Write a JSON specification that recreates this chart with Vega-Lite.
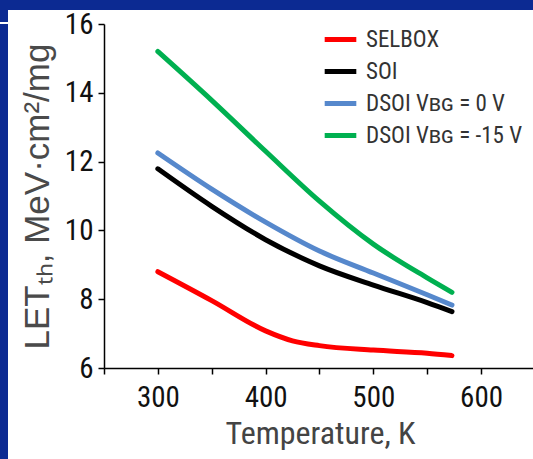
{
  "$schema": "https://vega.github.io/schema/vega-lite/v6.json",
  "padding": 0,
  "background": "white",
  "autosize": {"type": "pad"},
  "config": {"view": {"stroke": null}},
  "columns": 1,
  "align": "none",
  "bounds": "full",
  "spacing": -12,
  "concat": [
    {
      "columns": 2,
      "align": "none",
      "bounds": "full",
      "spacing": 0,
      "concat": [
        {
          "width": 8,
          "height": 22,
          "data": {"values": [{}]},
          "mark": {"type": "rect", "color": "#0c2a92"}
        },
        {
          "width": 525,
          "height": 10,
          "data": {"values": [{}]},
          "mark": {"type": "rect", "color": "#0c2a92"}
        }
      ]
    },
    {
      "columns": 2,
      "align": "none",
      "bounds": "full",
      "spacing": 12,
      "concat": [
        {
          "width": 8,
          "height": 437,
          "data": {"values": [{}]},
          "mark": {"type": "rect", "color": "#0c2a92"}
        },
        {
          "width": 432,
          "height": 344,
          "data": {
            "values": [
              {"T": 300, "LET": 8.8, "device": "SELBOX"},
              {"T": 350, "LET": 7.96, "device": "SELBOX"},
              {"T": 400, "LET": 7.08, "device": "SELBOX"},
              {"T": 425, "LET": 6.79, "device": "SELBOX"},
              {"T": 450, "LET": 6.65, "device": "SELBOX"},
              {"T": 500, "LET": 6.52, "device": "SELBOX"},
              {"T": 550, "LET": 6.43, "device": "SELBOX"},
              {"T": 573, "LET": 6.36, "device": "SELBOX"},
              {"T": 300, "LET": 11.79, "device": "SOI"},
              {"T": 350, "LET": 10.7, "device": "SOI"},
              {"T": 400, "LET": 9.73, "device": "SOI"},
              {"T": 450, "LET": 8.97, "device": "SOI"},
              {"T": 500, "LET": 8.41, "device": "SOI"},
              {"T": 550, "LET": 7.9, "device": "SOI"},
              {"T": 573, "LET": 7.64, "device": "SOI"},
              {"T": 300, "LET": 12.25, "device": "DSOI Vʙɢ = 0 V"},
              {"T": 350, "LET": 11.2, "device": "DSOI Vʙɢ = 0 V"},
              {"T": 400, "LET": 10.24, "device": "DSOI Vʙɢ = 0 V"},
              {"T": 450, "LET": 9.4, "device": "DSOI Vʙɢ = 0 V"},
              {"T": 500, "LET": 8.76, "device": "DSOI Vʙɢ = 0 V"},
              {"T": 550, "LET": 8.13, "device": "DSOI Vʙɢ = 0 V"},
              {"T": 573, "LET": 7.83, "device": "DSOI Vʙɢ = 0 V"},
              {"T": 300, "LET": 15.2, "device": "DSOI Vʙɢ = -15 V"},
              {"T": 350, "LET": 13.78, "device": "DSOI Vʙɢ = -15 V"},
              {"T": 400, "LET": 12.3, "device": "DSOI Vʙɢ = -15 V"},
              {"T": 450, "LET": 10.85, "device": "DSOI Vʙɢ = -15 V"},
              {"T": 500, "LET": 9.6, "device": "DSOI Vʙɢ = -15 V"},
              {"T": 550, "LET": 8.62, "device": "DSOI Vʙɢ = -15 V"},
              {"T": 573, "LET": 8.2, "device": "DSOI Vʙɢ = -15 V"}
            ]
          },
          "mark": {
            "type": "line",
            "strokeWidth": 5,
            "strokeCap": "round",
            "interpolate": "monotone"
          },
          "encoding": {
            "x": {
              "field": "T",
              "type": "quantitative",
              "scale": {"domain": [250, 651], "nice": false, "zero": false},
              "axis": {
                "title": "Temperature, K",
                "values": [250, 300, 350, 400, 450, 500, 550, 600, 650],
                "labelExpr": "datum.value % 100 === 0 && datum.value < 650 ? datum.label : ''",
                "grid": false,
                "domainColor": "#000",
                "domainWidth": 1.5,
                "tickColor": "#000",
                "tickWidth": 1.5,
                "tickSize": 6,
                "labelFont": "Roboto Condensed, Roboto, sans-serif",
                "labelFontSize": 29,
                "labelColor": "#111",
                "labelPadding": 9,
                "labelFlush": false,
                "titleFont": "Roboto Condensed, Roboto, sans-serif",
                "titleFontSize": 32,
                "titleFontWeight": "normal",
                "titleColor": "#444",
                "titlePadding": 6
              }
            },
            "y": {
              "field": "LET",
              "type": "quantitative",
              "scale": {"domain": [6, 16], "nice": false, "zero": false},
              "axis": {
                "title": "LETₜₕ, MeV·cm²/mg",
                "values": [6, 8, 10, 12, 14, 16],
                "grid": false,
                "domainColor": "#000",
                "domainWidth": 1.5,
                "tickColor": "#000",
                "tickWidth": 1.5,
                "tickSize": 6,
                "labelFont": "Roboto Condensed, Roboto, sans-serif",
                "labelFontSize": 29,
                "labelColor": "#111",
                "labelPadding": 5,
                "labelFlush": false,
                "titleFont": "Liberation Sans, Arial, sans-serif",
                "titleFontSize": 35,
                "titleFontWeight": "normal",
                "titleColor": "#4a4a4a",
                "titlePadding": 9
              }
            },
            "color": {
              "field": "device",
              "type": "nominal",
              "sort": ["SELBOX", "SOI", "DSOI Vʙɢ = 0 V", "DSOI Vʙɢ = -15 V"],
              "scale": {
                "domain": ["SELBOX", "SOI", "DSOI Vʙɢ = 0 V", "DSOI Vʙɢ = -15 V"],
                "range": ["#ff0000", "#000000", "#5688cc", "#00b050"]
              },
              "legend": {
                "title": null,
                "orient": "none",
                "legendX": 322,
                "legendY": 21,
                "padding": 0,
                "symbolType": "stroke",
                "symbolSize": 1000,
                "symbolStrokeWidth": 5,
                "labelFont": "Roboto Condensed, Roboto, sans-serif",
                "labelFontSize": 23,
                "labelColor": "#333",
                "labelOffset": 7,
                "labelLimit": 400,
                "rowPadding": 1
              }
            }
          }
        }
      ]
    }
  ]
}
